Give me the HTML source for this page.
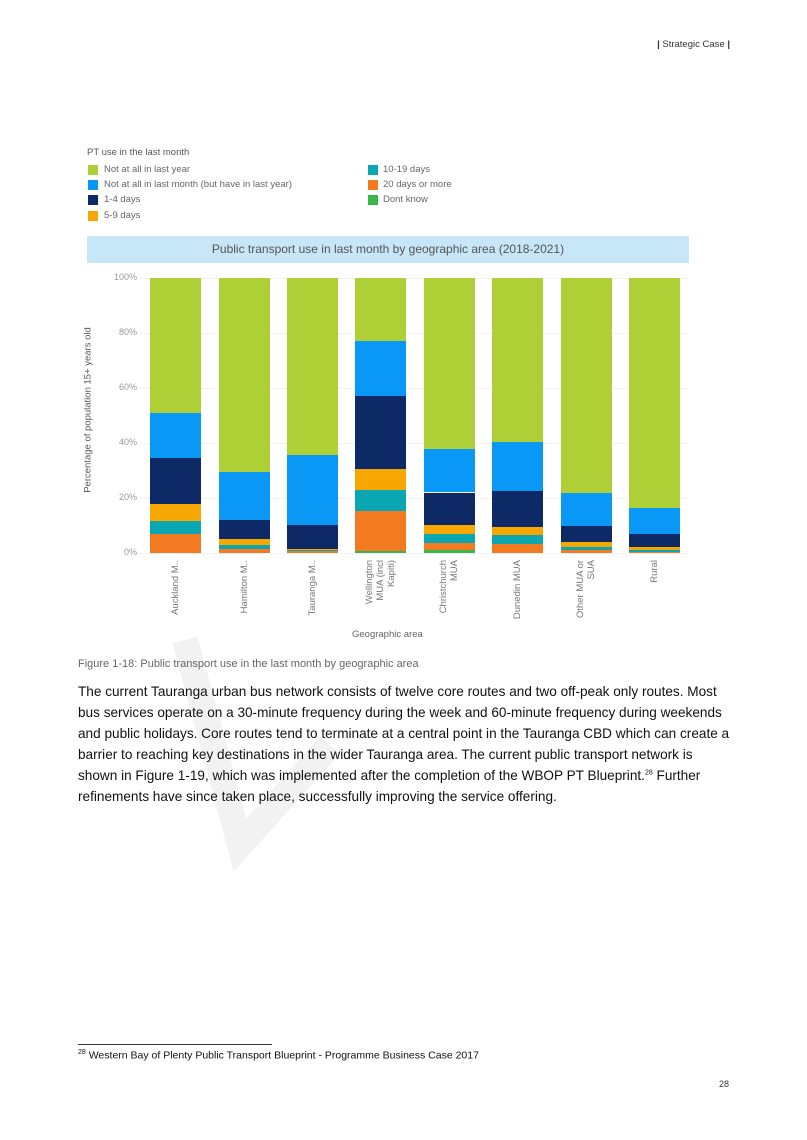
<!DOCTYPE html>
<html><head><meta charset="utf-8"><style>
body{margin:0;width:807px;height:1140px;background:#fff;position:relative;overflow:hidden;font-family:"Liberation Sans",sans-serif}
.a{position:absolute;white-space:nowrap}
.leg{font-size:9.5px;color:#666}
.sw{position:absolute;width:10px;height:10px}
.p{position:absolute;left:78px;top:681px;font-size:13.6px;line-height:21px;color:#111;white-space:nowrap}
.yl{position:absolute;width:40px;text-align:right;font-size:9px;color:#999}
.xl{position:absolute;font-size:9.5px;color:#777;transform:rotate(-90deg);transform-origin:right top;text-align:right;line-height:11px}
</style></head><body>
<svg class="a" style="left:0;top:0" width="807" height="1140"><polyline points="185,640 240,845 330,745" fill="none" stroke="#f2f2f2" stroke-width="26" stroke-linejoin="miter"/></svg>
<div class="a" style="right:77px;top:39px;font-size:9.5px;color:#333"><b>|</b> Strategic Case <b>|</b></div>
<div class="a leg" style="left:87px;top:147px;color:#555">PT use in the last month</div>
<div class="sw" style="left:88px;top:165px;background:#aecf36"></div><div class="a leg" style="left:104px;top:164px">Not at all in last year</div>
<div class="sw" style="left:88px;top:180px;background:#0a98f6"></div><div class="a leg" style="left:104px;top:179px">Not at all in last month (but have in last year)</div>
<div class="sw" style="left:88px;top:195px;background:#0d2966"></div><div class="a leg" style="left:104px;top:194px">1-4 days</div>
<div class="sw" style="left:88px;top:211px;background:#f7a800"></div><div class="a leg" style="left:104px;top:210px">5-9 days</div>
<div class="sw" style="left:368px;top:165px;background:#0aa7b2"></div><div class="a leg" style="left:383px;top:164px">10-19 days</div>
<div class="sw" style="left:368px;top:180px;background:#f47a22"></div><div class="a leg" style="left:383px;top:179px">20 days or more</div>
<div class="sw" style="left:368px;top:195px;background:#3ab54a"></div><div class="a leg" style="left:383px;top:194px">Dont know</div>
<div class="a" style="left:87px;top:236px;width:602px;height:27px;background:#c7e6f7;text-align:center;line-height:27px;font-size:12px;color:#555">Public transport use in last month by geographic area (2018-2021)</div>
<div id="ch"></div>
<div class="a" style="left:88px;top:410px;transform:translate(-50%,-50%) rotate(-90deg);font-size:9.5px;color:#555">Percentage of population 15+ years old</div>
<div class="a" style="left:352px;top:629px;font-size:9.5px;color:#666">Geographic area</div>
<div class="a" style="left:78px;top:658px;font-size:11px;color:#666">Figure 1-18: Public transport use in the last month by geographic area</div>
<div class="p">The current Tauranga urban bus network consists of twelve core routes and two off-peak only routes. Most<br>bus services operate on a 30-minute frequency during the week and 60-minute frequency during weekends<br>and public holidays. Core routes tend to terminate at a central point in the Tauranga CBD which can create a<br>barrier to reaching key destinations in the wider Tauranga area. The current public transport network is<br>shown in Figure 1-19, which was implemented after the completion of the WBOP PT Blueprint.<sup style="font-size:7px;line-height:0">28</sup> Further<br>refinements have since taken place, successfully improving the service offering.</div>
<div class="a" style="left:78px;top:1044px;width:194px;border-top:1px solid #333"></div>
<div class="a" style="left:78px;top:1049px;font-size:10.5px;color:#111"><sup style="font-size:7px">28</sup> Western Bay of Plenty Public Transport Blueprint - Programme Business Case 2017</div>
<div class="a" style="left:719px;top:1079px;font-size:9px;color:#333">28</div>
<script>
var T=278,H=275,C=document.getElementById('ch'),h='';
[0,20,40,60,80,100].forEach(function(v){var y=T+H-H*v/100;h+='<div class="a" style="left:140px;top:'+y+'px;width:548px;border-top:1px solid #f3f3f3"></div><div class="yl" style="left:97px;top:'+(y-6)+'px">'+v+'%</div>';});
var cols=['#3ab54a','#f47a22','#0aa7b2','#f7a800','#0d2966','#0a98f6','#aecf36'];
var xs=[150,219,287,355,424,492,561,629];
var d=[[0,0,7,11.5,17.7,34.7,51],[0,0,1.5,3,5,12,29.5],[0,0,0.6,1,1.5,10.3,35.8],[0,0.8,15.4,22.8,30.5,57.2,77],[0,1,3.6,6.8,10.3,22,37.8],[0,0,3.4,6.4,9.3,22.7,40.4],[0,0,1,2.2,3.9,9.8,22],[0,0,0.5,1.2,2.2,7,16.2]];
var labs=['Auckland M..','Hamilton M..','Tauranga M..','Wellington<br>MUA (incl<br>Kapiti)','Christchurch<br>MUA','Dunedin MUA','Other MUA or<br>SUA','Rural'];
d.forEach(function(b,i){for(var k=0;k<7;k++){var lo=b[k],hi=k<6?b[k+1]:100;if(hi<=lo)continue;var y1=T+H-H*hi/100,y2=T+H-H*lo/100;h+='<div class="a" style="left:'+xs[i]+'px;width:51px;top:'+y1+'px;height:'+(y2-y1)+'px;background:'+cols[k]+'"></div>';}
var n=(labs[i].match(/<br>/g)||[]).length+1;h+='<div class="xl" style="left:'+(xs[i]+25-n*5.5-70)+'px;top:560px;width:70px">'+labs[i]+'</div>';});
C.innerHTML=h;
</script>
</body></html>
